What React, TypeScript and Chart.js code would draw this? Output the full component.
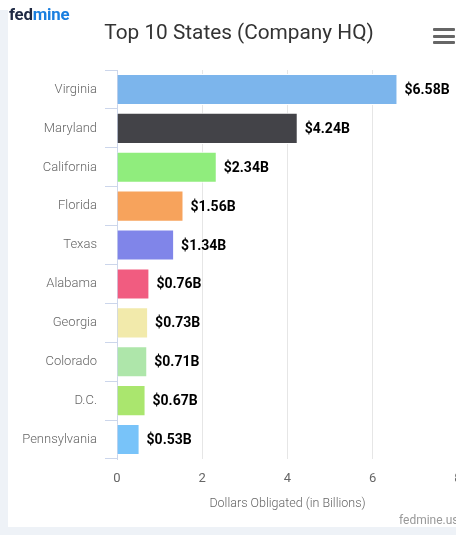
import React, { useEffect, useRef } from "react";
import { Chart, registerables } from "chart.js";

Chart.register(...registerables);

const states = ["Virginia", "Maryland", "California", "Florida", "Texas", "Alabama", "Georgia", "Colorado", "D.C.", "Pennsylvania"];
const values = [6.58, 4.24, 2.34, 1.56, 1.34, 0.76, 0.73, 0.71, 0.67, 0.53];
const barColors = ["#7cb5ec", "#434348", "#90ed7d", "#f7a35c", "#8085e9", "#f15c80", "#f2eaab", "#aee6aa", "#aae66e", "#78c3f9"];
const xTicks = [0, 2, 4, 6, 8];

const FONT = "Roboto, 'Noto Sans', sans-serif";

const labelPlugin = {
  id: "valueLabels",
  afterDatasetsDraw(chart: any) {
    const ctx = chart.ctx;
    const meta = chart.getDatasetMeta(0);
    ctx.save();
    ctx.font = `bold 14px ${FONT}`;
    ctx.fillStyle = "#000000";
    ctx.textAlign = "left";
    ctx.textBaseline = "middle";
    meta.data.forEach((bar: any, i: number) => {
      ctx.fillText("$" + values[i].toFixed(2) + "B", bar.x + 7, bar.y + 1);
    });
    ctx.restore();
  },
};

export default function App() {
  const ref = useRef<HTMLCanvasElement>(null);
  useEffect(() => {
    if (!ref.current) return;
    const chart = new Chart(ref.current, {
      type: "bar",
      data: {
        labels: states,
        datasets: [
          {
            data: values,
            backgroundColor: barColors,
            borderColor: "#ffffff",
            borderWidth: 1,
            barPercentage: 0.8,
            categoryPercentage: 1,
          },
        ],
      },
      options: {
        indexAxis: "y",
        animation: false,
        responsive: false,
        maintainAspectRatio: false,
        layout: { padding: { top: 70, right: 22, bottom: 6, left: 0 } },
        plugins: {
          legend: { display: false },
          tooltip: { enabled: false },
        },
        scales: {
          x: {
            min: 0,
            max: 8,
            afterBuildTicks: (s: any) => {
              s.ticks = xTicks.map((v) => ({ value: v }));
            },
            afterFit: (s: any) => {
              s.height = 62;
            },
            grid: { color: "#e6e6e6", drawTicks: false, lineWidth: 1 },
            border: { display: false },
            ticks: { color: "#666666", font: { family: FONT, size: 13 }, padding: 12 },
            title: {
              display: true,
              text: "Dollars Obligated (in Billions)",
              color: "#666666",
              font: { family: FONT, size: 12.5, weight: 300 },
              padding: { top: 10, bottom: 10 },
            },
          },
          y: {
            offset: true,
            afterFit: (s: any) => {
              s.width = 109;
            },
            grid: { drawOnChartArea: false, drawTicks: true, tickLength: 12, color: "#ccd6eb", offset: true },
            border: { display: true, color: "#ccd6eb", width: 1 },
            ticks: { color: "#666666", font: { family: FONT, size: 13, weight: 300 }, padding: 8 },
          },
        },
      },
      plugins: [labelPlugin],
    });
    return () => chart.destroy();
  }, []);

  return (
    <div style={{ position: "fixed", left: 0, top: 0, width: 456, height: 535, overflow: "hidden", background: "#ffffff", fontFamily: FONT }}>
      <div style={{ position: "absolute", left: 0, top: 10, width: 8, height: 525, background: "#eef2f7" }} />
      <div style={{ position: "absolute", left: 0, top: 527, width: 456, height: 8, background: "#eef2f7" }} />
      <canvas ref={ref} width={472} height={527} style={{ position: "absolute", left: 8, top: 0, width: 472, height: 527 }} />
      <div style={{ position: "absolute", left: 9, top: 3, fontWeight: 700, fontSize: 16.8, lineHeight: "22px", letterSpacing: -0.2 }}>
        <span style={{ color: "#1f2a44" }}>fed</span>
        <span style={{ color: "#1a7fe0" }}>mine</span>
      </div>
      <div style={{ position: "absolute", left: 0, width: 478, top: 18, textAlign: "center", color: "#333333", fontSize: 20.8, lineHeight: "28px" }}>
        Top 10 States (Company HQ)
      </div>
      <div style={{ position: "absolute", left: 433, top: 28, width: 22 }}>
        {[0, 1, 2].map((i) => (
          <div key={i} style={{ height: 3, background: "#666666", marginBottom: 3.5, borderRadius: 1 }} />
        ))}
      </div>
      <div style={{ position: "absolute", left: 399, top: 513, color: "#999999", fontSize: 12, lineHeight: "15px", whiteSpace: "nowrap" }}>fedmine.us</div>
    </div>
  );
}
